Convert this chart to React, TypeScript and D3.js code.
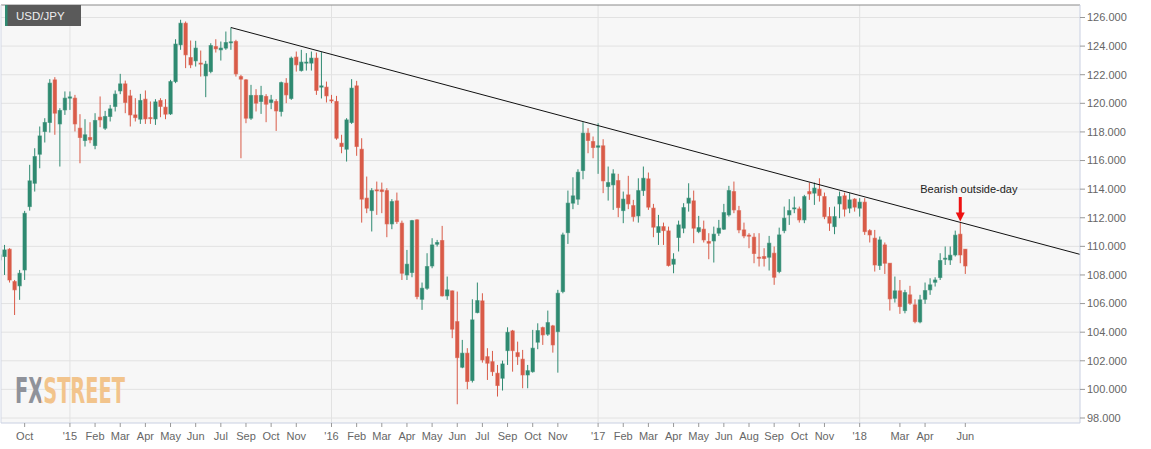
import React from "react";
import * as d3 from "d3";

// Weekly USD/JPY candles (index 0 = first visible week, ~Sep 2014)
const opens = [109.05,109.29,109.8,107.54,107.24,108.35,112.78,114.41,116.44,118.03,118.66,121.64,118.56,119.54,120.36,120.36,118.26,117.4,117.61,117.05,119.03,118.26,119.08,119.78,120.87,121.36,120.52,119.19,118.89,120.29,119.0,118.91,120.2,119.73,119.26,121.52,124.09,125.6,123.2,122.97,122.81,121.92,122.22,123.97,123.74,123.86,124.25,124.32,121.87,121.64,118.96,120.55,120.13,120.48,120.06,120.13,119.43,121.41,120.34,123.23,122.29,122.81,122.81,123.16,121.13,121.13,120.24,120.13,117.21,116.79,118.66,121.22,116.79,113.37,112.5,113.95,113.95,113.9,111.57,113.18,111.62,108.0,108.17,111.85,106.3,107.07,108.63,110.15,110.41,106.54,106.89,104.74,101.55,102.53,100.62,105.37,106.19,102.29,101.94,101.13,100.78,102.71,104.09,102.57,102.11,101.01,101.24,103.3,104.32,103.86,104.44,104.04,106.84,110.96,113.02,113.3,115.3,117.91,117.33,116.93,117.03,114.18,114.3,114.6,112.5,113.6,112.85,112.13,113.9,114.72,112.67,110.97,111.38,111.08,108.75,110.62,111.27,113.02,113.18,111.03,111.2,110.34,110.38,110.92,111.2,112.2,113.83,112.5,111.15,110.78,110.64,109.24,109.29,109.24,109.52,108.24,111.1,112.2,112.64,112.62,111.85,113.83,113.72,114.0,113.48,112.08,111.38,112.97,113.53,112.67,113.3,112.67,113.09,111.1,110.57,108.66,110.1,108.82,106.37,106.89,105.51,106.61,105.91,104.72,106.3,106.96,107.49,107.82,109.1,109.05,109.4,110.85,109.8];
const highs = [109.87,110.1,109.87,107.65,108.35,112.48,115.7,116.86,118.38,118.96,121.69,121.83,119.66,120.83,120.83,120.59,119.24,118.89,118.68,119.31,120.48,119.47,119.89,120.9,122.06,121.59,120.94,120.36,120.66,120.9,120.13,120.29,120.36,120.29,121.64,124.48,125.84,125.72,124.39,124.37,123.69,122.97,124.2,124.48,124.32,125.02,125.3,124.44,121.99,121.69,121.29,120.99,121.22,120.64,120.59,120.29,121.52,121.76,123.27,123.62,123.74,123.51,123.62,123.55,123.58,121.52,120.59,120.52,117.8,118.96,121.69,121.57,117.56,114.88,114.07,114.53,114.46,114.07,113.3,113.76,111.8,109.75,111.85,111.9,107.47,109.52,110.57,110.45,111.43,107.89,106.91,106.84,103.46,102.88,106.3,107.47,106.72,102.88,102.69,101.71,102.01,104.34,104.16,103.34,102.76,101.71,104.16,104.62,104.39,105.51,104.51,106.96,110.96,113.9,114.83,115.39,118.68,118.26,117.68,118.61,117.49,115.58,115.39,115.07,113.83,114.93,113.25,114.76,115.58,115.16,112.97,112.2,111.66,111.38,109.52,111.8,113.02,114.41,113.9,112.13,111.8,110.92,111.38,111.85,112.97,114.23,114.53,112.83,111.66,110.92,110.92,110.92,109.87,110.73,109.99,111.31,112.78,113.3,113.48,112.78,113.6,114.46,114.46,114.76,113.76,112.74,112.78,113.83,113.76,113.72,113.37,113.37,113.37,111.2,111.15,110.69,110.27,108.82,107.89,107.65,106.96,107.24,106.3,106.61,107.47,107.77,107.84,109.52,109.99,109.99,111.1,111.66,109.8];
const lows = [108.24,108.0,107.47,105.2,106.26,107.65,112.5,113.83,115.46,117.26,117.96,117.8,115.58,119.19,119.54,118.03,115.81,116.98,117.21,116.79,118.33,118.14,118.73,119.43,120.64,119.31,118.38,118.73,118.56,118.56,118.56,118.49,119.03,118.89,119.19,121.41,123.74,122.46,122.46,122.57,121.87,120.43,122.1,123.55,122.99,123.74,123.74,121.87,116.16,118.61,118.84,119.43,119.26,118.68,119.59,118.07,119.08,120.01,120.24,122.22,122.22,122.29,122.29,120.59,120.34,120.06,120.01,117.45,116.51,115.93,118.56,116.33,111.66,112.32,111.04,112.2,112.32,110.64,111.2,111.57,107.65,107.65,107.84,106.3,105.56,106.96,108.47,109.99,106.49,106.26,103.58,98.96,101.48,100.01,100.48,105.32,101.87,100.66,100.94,99.5,99.92,101.71,101.24,101.71,100.08,100.08,101.17,102.81,103.11,103.74,102.57,101.17,106.72,110.17,112.6,112.9,114.69,116.51,116.16,115.07,113.72,113.2,112.55,112.04,111.62,112.6,111.73,111.66,113.53,112.55,110.64,110.1,110.1,108.59,108.12,109.64,110.92,112.43,110.22,110.92,110.27,109.1,108.87,110.73,111.15,112.08,112.32,110.92,110.57,109.87,108.82,108.59,108.59,108.31,107.31,108.12,110.92,111.5,112.32,111.66,111.62,113.25,112.9,113.13,111.9,111.08,110.85,111.97,112.08,112.32,112.43,112.08,110.8,110.27,108.24,108.35,108.07,105.51,106.07,105.28,105.32,105.91,104.62,104.62,105.98,106.61,107.19,107.65,108.7,108.7,109.29,108.82,108.07];
const closes = [109.4,109.75,107.65,106.96,108.12,112.31,114.58,116.28,117.72,118.66,121.41,119.31,119.5,120.36,120.45,118.56,117.61,117.8,117.45,118.8,118.84,119.08,119.61,120.64,121.36,120.06,119.19,119.0,120.2,118.91,118.93,120.1,119.78,119.24,121.52,124.14,125.6,123.39,122.69,123.86,122.76,122.74,124.04,123.81,123.86,124.25,124.3,122.06,121.69,118.96,120.55,120.01,120.55,119.94,120.24,119.47,121.45,120.59,123.16,122.69,122.88,122.88,123.16,120.9,121.22,120.52,120.2,117.56,116.98,118.84,121.06,116.98,113.3,112.67,113.9,113.9,113.83,111.57,113.13,111.73,108.12,108.75,111.8,106.49,107.07,108.59,110.1,110.27,106.54,106.96,104.21,102.22,102.53,100.55,104.86,106.21,102.06,101.83,101.24,100.27,101.78,103.99,102.71,102.29,101.01,101.31,102.88,104.11,103.81,104.67,103.11,106.72,110.8,113.02,113.53,115.18,117.91,117.4,116.91,117.03,114.58,114.46,115.07,112.71,113.3,112.97,112.08,113.9,114.76,112.74,111.34,111.38,111.1,108.66,109.1,111.5,112.71,113.37,111.27,111.31,110.45,110.22,110.85,111.27,112.36,113.9,112.55,111.15,110.73,110.71,109.5,109.17,109.15,110.22,107.84,110.8,111.97,112.5,112.69,111.85,113.48,113.67,114.07,113.55,112.08,111.62,112.08,113.48,112.6,113.25,112.74,113.09,111.03,110.8,108.7,110.45,108.82,106.33,106.89,105.79,106.77,106.02,104.74,106.26,106.91,107.31,107.65,109.01,109.17,109.38,110.78,109.4,108.63];

// x-axis labels at week indices
const tickLabels = ["Oct","'15","Feb","Mar","Apr","May","Jun","Jul","Sep","Oct","Nov","'16","Feb","Mar","Apr","May","Jun","Jul","Sep","Oct","Nov","'17","Feb","Mar","Apr","May","Jun","Aug","Sep","Oct","Nov","'18","Mar","Apr","Jun"];
const tickIndices = [5,14,19,24,29,34,39,44,49,54,59,66,71,76,81,86,91,96,101,106,111,119,124,129,134,139,144,149,154,159,164,171,179,184,192];
const yearTicks = ["'15","'16","'17","'18"];
const priceTicks = [98,100,102,104,106,108,110,112,114,116,118,120,122,124,126];

// descending trendline: [week index, price]
const trendIdx = [46, 214.8];
const trendVal = [125.3, 109.44];

const annotationIdx = 191;
const annotationText = "Bearish outside-day";

const W = 1151, H = 449;
const L = 1, R = 1080, T = 5, B = 423;
const GREEN = "#2f8a71", RED = "#d95b48";
const FONT = "'Liberation Sans', Arial, sans-serif";
const WM_FONT = "'Liberation Sans Narrow','DejaVu Sans Condensed','Liberation Sans',sans-serif";

export default function App() {
  React.useEffect(() => { document.body.style.margin = "0"; }, []);
  const x = d3.scaleLinear().domain([0, 214.8]).range([-0.5, 1080]);
  const y = d3.scaleLinear().domain([98, 126]).range([418, 17.5]);
  const bw = 3.4;
  const line = d3.line<number>().x((_, i) => x(trendIdx[i])).y((v) => y(v));
  const ax = x(annotationIdx);
  const ah = y(highs[annotationIdx]);
  return (
    <svg width={W} height={H} style={{ display: "block", background: "#fff" }} fontFamily={FONT}>
      <defs>
        <clipPath id="plot"><rect x={L} y={T} width={R - L} height={B - T} /></clipPath>
        <linearGradient id="wm" gradientUnits="userSpaceOnUse" x1={15} x2={125} y1={0} y2={0}>
          <stop offset="0.24" stopColor="#8f929a" />
          <stop offset="0.24" stopColor="#f2c48c" />
        </linearGradient>
      </defs>
      <rect x={L} y={T} width={R - L} height={B - T} fill="#f7f7f7" />
      {priceTicks.map((p) => (
        <line key={p} x1={L} x2={R} y1={y(p)} y2={y(p)} stroke="#e2e2e2" />
      ))}
      {tickIndices.map((ti, k) =>
        yearTicks.includes(tickLabels[k]) ? (
          <line key={"v" + k} x1={x(ti)} x2={x(ti)} y1={T} y2={B} stroke="#e2e2e2" />
        ) : null
      )}
      {/* watermark */}
      <text x={15} y={403} fontSize={36} fontWeight="bold" fontFamily={WM_FONT} textLength={110} lengthAdjust="spacingAndGlyphs" fill="url(#wm)">FXSTREET</text>
      <g clipPath="url(#plot)">
        {opens.map((o, i) => {
          const c = closes[i];
          const up = c >= o;
          const col = up ? GREEN : RED;
          const cx = x(i);
          const top = y(Math.max(o, c));
          const bot = y(Math.min(o, c));
          return (
            <g key={i}>
              <line x1={cx} x2={cx} y1={y(highs[i])} y2={y(lows[i])} stroke={col} strokeWidth={1} />
              <rect x={cx - bw / 2} y={top} width={bw} height={Math.max(1, bot - top)} fill={col} stroke={col} strokeOpacity={0.55} strokeWidth={1} />
            </g>
          );
        })}
        <path d={line(trendVal) || ""} fill="none" stroke="#111" strokeWidth={1} />
      </g>
      {/* plot borders */}
      <line x1={L} x2={R} y1={T} y2={T} stroke="#8a8a8a" />
      <line x1={L} x2={L} y1={T} y2={B} stroke="#d3d8e6" />
      <line x1={R} x2={R} y1={T} y2={B} stroke="#c9d0e2" />
      <line x1={L} x2={R} y1={B} y2={B} stroke="#c9d0e2" />
      {/* y axis */}
      {priceTicks.map((p) => (
        <g key={"yl" + p}>
          <line x1={R} x2={R + 5} y1={y(p)} y2={y(p)} stroke="#999" />
          <text x={R + 7} y={y(p)} dy="0.35em" fontSize={11} fill="#666">{p.toFixed(3)}</text>
        </g>
      ))}
      {/* x axis */}
      {tickIndices.map((ti, k) => (
        <g key={"xl" + k}>
          <line x1={x(ti)} x2={x(ti)} y1={B} y2={B + 4} stroke="#999" />
          <text x={x(ti)} y={440} textAnchor="middle" fontSize={11} fill="#666">{tickLabels[k]}</text>
        </g>
      ))}
      {/* title badge */}
      <rect x={5} y={5} width={76} height={21} fill="#5a5a5a" />
      <rect x={5} y={5} width={2.5} height={21} fill="#2f8a71" />
      <text x={16} y={20} fontSize={11.5} fill="#eee">USD/JPY</text>
      {/* annotation */}
      <text x={ax - 40} y={193} fontSize={11} fill="#222">{annotationText}</text>
      <line x1={ax} x2={ax} y1={197} y2={ah - 9} stroke="#ee1111" strokeWidth={3} />
      <path d={`M${ax - 4.5},${ah - 10} L${ax + 4.5},${ah - 10} L${ax},${ah - 1} Z`} fill="#ee1111" />
    </svg>
  );
}
